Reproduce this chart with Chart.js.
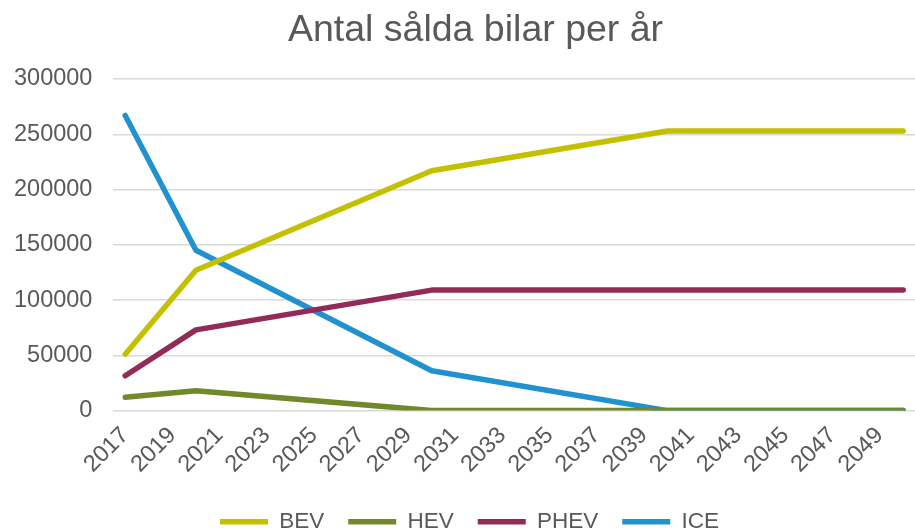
<!DOCTYPE html>
<html>
<head>
<meta charset="utf-8">
<script src="https://cdn.jsdelivr.net/npm/chart.js@4"></script>
<style>
    html, body { margin: 0; padding: 0; background: #fff; }
    #wrap { width: 915px; height: 529px; }
</style>
</head>
<body>
<div id="wrap"><canvas id="myChart"></canvas></div>
<script>
// years on the x axis
var years = [];
for (var y = 2017; y <= 2050; y++) years.push(String(y));

// values read at the corners of each line, the rest is spanned
var bev  = [51000, null, null, 127000, null, null, null, null, null, null, null, null, null, 217000,
            null, null, null, null, null, null, null, null, null, 253000,
            null, null, null, null, null, null, null, null, null, 253000];
var hev  = [12000, null, null, 18000, null, null, null, null, null, null, null, null, null, 0,
            null, null, null, null, null, null, null, null, null, 0,
            null, null, null, null, null, null, null, null, null, 0];
var phev = [31500, null, null, 73000, null, null, null, null, null, null, null, null, null, 109000,
            null, null, null, null, null, null, null, null, null, 109000,
            null, null, null, null, null, null, null, null, null, 109000];
var ice  = [267000, null, null, 145000, null, null, null, null, null, null, null, null, null, 36000,
            null, null, null, null, null, null, null, null, null, 0,
            null, null, null, null, null, null, null, null, null, 0];

var seriesNames = ['BEV', 'HEV', 'PHEV', 'ICE'];
var seriesColors = ['#c3c000', '#71882b', '#922b57', '#2192cf'];
var yTicks = [0, 50000, 100000, 150000, 200000, 250000, 300000];

var textColor = '#595959';
var fontFam = 'Liberation Sans, Arial';

function makeSet(i, values) {
    return {
        label: seriesNames[i],
        data: values,
        borderColor: seriesColors[i],
        backgroundColor: seriesColors[i],
        borderWidth: 5.5,
        borderCapStyle: 'round',
        borderJoinStyle: 'round',
        pointRadius: 0,
        pointHoverRadius: 0,
        pointStyle: 'line',
        spanGaps: true,
        tension: 0
    };
}

// excel puts title and legend a bit right of the canvas middle
var nudge = {
    id: 'nudge',
    afterLayout: function(chart) {
        chart.titleBlock.left += 19;
        chart.titleBlock.right += 19;
        chart.legend.left += 13;
        chart.legend.right += 13;
    }
};

var ctx = document.getElementById('myChart').getContext('2d');
new Chart(ctx, {
    type: 'line',
    data: {
        labels: years,
        datasets: [makeSet(0, bev), makeSet(1, hev), makeSet(2, phev), makeSet(3, ice)]
    },
    plugins: [nudge],
    options: {
        responsive: true,
        maintainAspectRatio: false,
        animation: false,
        layout: { padding: { left: -7, right: -5, top: 4, bottom: -14 } },
        plugins: {
            title: {
                display: true,
                text: 'Antal sålda bilar per år',
                color: textColor,
                font: { family: fontFam, size: 37.5, weight: 'normal' },
                padding: { top: 4, bottom: 26 }
            },
            legend: {
                position: 'bottom',
                labels: {
                    usePointStyle: true,
                    pointStyleWidth: 48,
                    color: textColor,
                    padding: 24,
                    font: { family: fontFam, size: 22.5 }
                }
            },
            tooltip: { enabled: false }
        },
        scales: {
            x: {
                offset: true,
                grid: { display: false },
                border: { display: false },
                afterFit: function(s) {
                    s.paddingRight = 0;
                    s.height += 5;
                },
                ticks: {
                    autoSkip: false,
                    maxRotation: 45,
                    minRotation: 45,
                    color: textColor,
                    font: { family: fontFam, size: 23.5 },
                    callback: function(v, i) { return i % 2 === 0 ? years[i] : ''; }
                }
            },
            y: {
                min: 0,
                max: 300000,
                afterBuildTicks: function(axis) {
                    axis.ticks = yTicks.map(function(v) { return { value: v }; });
                },
                border: { display: false },
                grid: { color: '#d9d9d9', lineWidth: 1.5, drawTicks: false },
                ticks: {
                    padding: 21,
                    color: textColor,
                    font: { family: fontFam, size: 23.5 },
                    callback: function(v) { return String(v); }
                }
            }
        }
    }
});
</script>
</body>
</html>
